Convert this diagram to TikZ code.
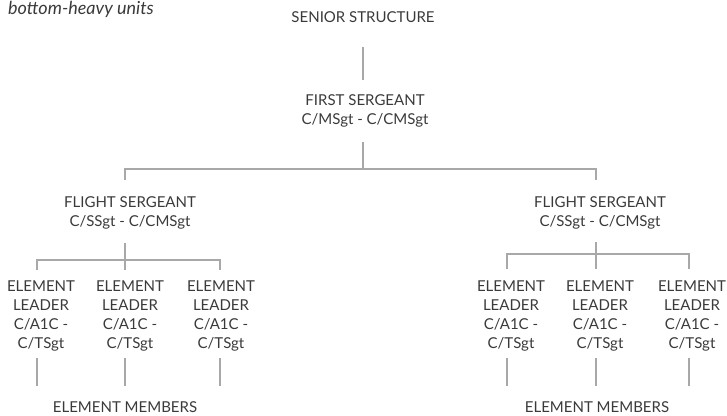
\documentclass[tikz,border=0pt]{standalone}
\usepackage{fontspec}
\setmainfont{Lato}
\definecolor{txt}{HTML}{3A3A3A}
\definecolor{ln}{HTML}{A8A8A8}
\begin{document}
\begin{tikzpicture}[x=1pt,y=-1pt,
  lbl/.style={inner sep=0pt, outer sep=0pt, text=txt, font=\fontsize{15}{18.5}\selectfont, align=center, anchor=north},
  elbox/.style={lbl, font=\fontsize{15}{19}\selectfont},
  conn/.style={draw=ln, line width=2pt}]
\useasboundingbox (0,0) rectangle (727,415);
% title
\node[inner sep=0pt, anchor=base west, text=txt, font=\fontsize{18}{20}\selectfont\itshape] (title) at (8,14) {bottom-heavy units};
% nodes
\node[lbl] (senior) at (363,11.7) {SENIOR STRUCTURE};
\node[lbl] (first) at (365,95) {FIRST SERGEANT\\C/MSgt - C/CMSgt};
\node[lbl] (fsL) at (130,197) {FLIGHT SERGEANT\\C/SSgt - C/CMSgt};
\node[lbl] (fsR) at (600,197) {FLIGHT SERGEANT\\C/SSgt - C/CMSgt};
\node[elbox] (elL1) at (41,281) {ELEMENT\\LEADER\\C/A1C -\\C/TSgt};
\node[elbox] (elL2) at (130,281) {ELEMENT\\LEADER\\C/A1C -\\C/TSgt};
\node[elbox] (elL3) at (221,281) {ELEMENT\\LEADER\\C/A1C -\\C/TSgt};
\node[elbox] (elR1) at (511,281) {ELEMENT\\LEADER\\C/A1C -\\C/TSgt};
\node[elbox] (elR2) at (600,281) {ELEMENT\\LEADER\\C/A1C -\\C/TSgt};
\node[elbox] (elR3) at (692,281) {ELEMENT\\LEADER\\C/A1C -\\C/TSgt};
\node[lbl] (emL) at (125,402) {ELEMENT MEMBERS};
\node[lbl] (emR) at (597,402) {ELEMENT MEMBERS};
% connector points
\coordinate (s1) at (363,47);
\coordinate (s2) at (363,80);
\coordinate (f1) at (363,142);
\coordinate (barT) at (363,169);
\coordinate (barTL) at (125,169);
\coordinate (barTR) at (596,169);
\coordinate (tickTL) at (125,180);
\coordinate (tickTR) at (596,180);
\coordinate (fl1) at (125,243);
\coordinate (barL) at (125,260);
\coordinate (barL1) at (37,260);
\coordinate (barL3) at (220,260);
\coordinate (tL1) at (37,270);
\coordinate (tL3) at (220,270);
\coordinate (tL2) at (125,270);
\coordinate (fr1) at (596,242);
\coordinate (barR) at (596,254);
\coordinate (barR1) at (507,254);
\coordinate (barR3) at (689,254);
\coordinate (tR1) at (507,269);
\coordinate (tR2) at (596,269);
\coordinate (tR3) at (689,269);
\foreach \x/\n in {37/a,125/b,220/c,507/d,596/e,689/f}{
  \coordinate (u\n) at (\x,358);
  \coordinate (d\n) at (\x,386);
}
% connectors
\draw[conn] (s1) -- (s2);
\draw[conn] (f1) -- (barT);
\draw[conn] (tickTL) -- (barTL) -- (barTR) -- (tickTR);
\draw[conn] (fl1) -- (tL2);
\draw[conn] (tL1) -- (barL1) -- (barL3) -- (tL3);
\draw[conn] (fr1) -- (tR2);
\draw[conn] (tR1) -- (barR1) -- (barR3) -- (tR3);
\foreach \n in {a,b,c,d,e,f}{
  \draw[conn] (u\n) -- (d\n);
}
\end{tikzpicture}
\end{document}
